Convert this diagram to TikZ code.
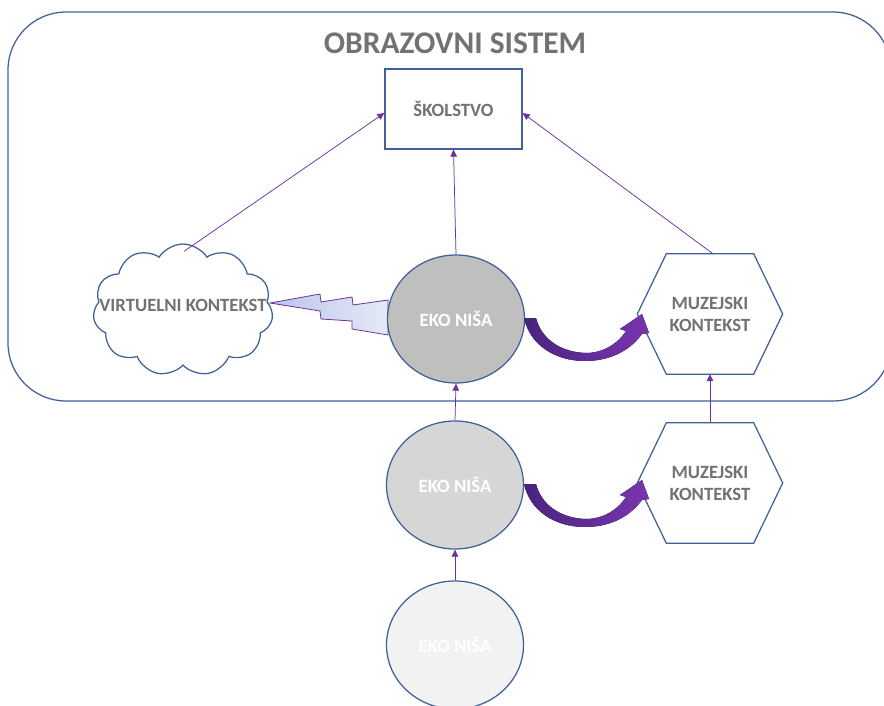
\documentclass[tikz,border=0pt]{standalone}
\usepackage{fontspec}
\setmainfont{Carlito}
\usetikzlibrary{arrows.meta,shapes.geometric,shapes.symbols}
\definecolor{edgeblue}{HTML}{41609A}
\definecolor{linkpurple}{HTML}{7030A0}
\definecolor{labelgray}{HTML}{767171}
\definecolor{swooshdark}{HTML}{48257E}
\definecolor{swooshlight}{HTML}{7A34B0}
\definecolor{boltblue}{HTML}{BAC4EA}
\definecolor{boltpale}{HTML}{E6EAF7}
\begin{document}
\begin{tikzpicture}[x=1pt,y=-1pt,
  outline/.style={draw=edgeblue,line width=1.25pt},
  lbl/.style={font=\bfseries\fontsize{18.7}{22}\selectfont,text=labelgray,align=center},
  niche/.style={ellipse,outline,minimum width=137pt,minimum height=128pt,
    inner sep=0pt,font=\bfseries\fontsize{18.7}{22}\selectfont,text=white},
  hexbox/.style={lbl,minimum width=145pt,minimum height=120pt,inner sep=0pt},
  conn/.style={draw=linkpurple,line width=0.75pt,-{Triangle[length=7pt,width=6.5pt]}},
  swoosh/.style={left color=swooshdark,right color=swooshlight,draw=none},
]
\useasboundingbox (0,0) rectangle (884,706);
\clip (0,0) rectangle (884,706);
\fill[white] (0,0) rectangle (884,706);

% educational system frame
\draw[outline,rounded corners=58pt] (8,12) rectangle (891,401);
\node[font=\bfseries\fontsize{31.5}{36}\selectfont,text=labelgray] (title) at (455,43) {OBRAZOVNI SISTEM};

% school system box
\node[lbl,outline,minimum width=137pt,minimum height=80pt,inner sep=0pt] (sk) at (453.5,109) {ŠKOLSTVO};

% virtual context cloud
\node[cloud,outline,cloud puffs=11,cloud puff arc=115,aspect=1.4,
  minimum width=180pt,minimum height=132pt,inner sep=0pt] (cl) at (183,310) {};
\node[lbl] (vk) at (183,305) {VIRTUELNI KONTEKST};

% lightning link between niche and cloud
\draw[draw=linkpurple,line width=0.8pt,left color=boltblue,right color=boltpale]
  (270,303) -- (320,294) -- (321,302) -- (352,297) -- (353,305) -- (388,300)
  -- (388,335) -- (352,329) -- (352,321) -- (321,319) -- (320,311) -- cycle;

% eco niches
\node[niche,fill=black!25] (e1) at (456,319) {EKO NIŠA};
\node[niche,fill=black!16] (e2) at (455,485) {EKO NIŠA};
\node[niche,fill=black!5] (e3) at (455,645) {EKO NIŠA};

% museum contexts
\node[hexbox] (h1) at (710,314) {MUZEJSKI\\KONTEKST};
\node[hexbox] (h2) at (710,483) {MUZEJSKI\\KONTEKST};
\foreach \h in {h1,h2}
  \draw[outline] ([xshift=29pt]\h.north west) -- ([xshift=-29pt]\h.north east)
    -- (\h.east) -- ([xshift=-29pt]\h.south east) -- ([xshift=29pt]\h.south west)
    -- (\h.west) -- cycle;

% curved block arrows from niche to museum
\foreach \dy in {0,166}{
  \begin{scope}[yshift=-\dy pt]
    \fill[swoosh] (524,318) -- (536,318)
      .. controls (541,338) and (560,353) .. (588,353)
      .. controls (606,352) and (619,342) .. (626,331)
      -- (620,329) -- (642,314) -- (649,333) -- (642,334)
      .. controls (628,353) and (607,361) .. (585,361)
      .. controls (555,361) and (530,345) .. (524,318) -- cycle;
  \end{scope}
}

% thin links
\draw[conn] ([xshift=1pt,yshift=-8pt]cl.north) -- ([yshift=-4pt]sk.west);
\draw[conn] (e1.north) -- (sk.south);
\draw[conn] ([xshift=3pt]h1.north) -- ([yshift=-4pt]sk.east);
\draw[conn] (e2.north) -- (e1.south);
\draw[conn] (e3.north) -- (e2.south);
\draw[conn] (h2.north) -- (h1.south);
\end{tikzpicture}
\end{document}
